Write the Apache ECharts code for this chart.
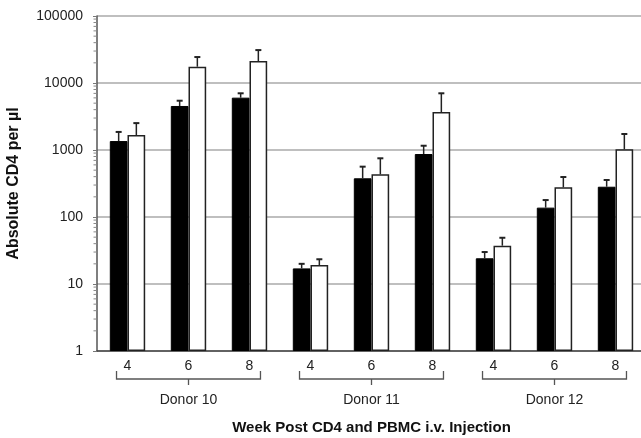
<!DOCTYPE html>
<html><head><meta charset="utf-8">
<script src="https://cdn.jsdelivr.net/npm/echarts@6/dist/echarts.min.js"></script>
<style>html,body{margin:0;padding:0;background:#fff}#c{width:641px;height:438px}</style>
</head><body><div id="c"></div>
<script>
const categories = ['4','6','8','4','6','8','4','6','8'];
const groupNames = ['Donor 10','Donor 11','Donor 12'];
const groupSpans = [[0,2],[3,5],[6,8]];
const blackValues = [1360, 4540, 6040, 17.1, 378, 871, 24.2, 138, 283];
const blackErrTop = [1860, 5440, 7020, 20, 564, 1158, 30, 179, 357];
const whiteValues = [1675, 17500, 21300, 19.2, 434, 3690, 37.3, 277, 1024];
const whiteErrTop = [2520, 24400, 31000, 23.4, 752, 7020, 49, 395, 1734];
const yTicks = [1, 10, 100, 1000, 10000, 100000];
const minorMultipliers = [2, 3, 4, 5, 6, 7, 8, 9];

const FONT = 'Liberation Sans, Arial, sans-serif';
const GAP = 0.42;
const minorTickValues = [];
for (let k = 0; k < yTicks.length - 1; k++) {
  minorMultipliers.forEach(m => minorTickValues.push(yTicks[k] * m));
}

const chart = echarts.init(document.getElementById('c'), null, {renderer:'canvas'});

function errRender(side){
  return function(params, api){
    const i = api.value(0);
    const catW = api.size([1,0])[0];
    const bw = catW*(1-GAP)/2;
    const top = api.coord([i, api.value(1)]);
    const base = api.coord([i, api.value(2)]);
    const x = top[0] + side*bw/2;
    const style = {stroke:'#222', lineWidth:1.5};
    return {type:'group', children:[
      {type:'line', shape:{x1:x,y1:base[1],x2:x,y2:top[1]}, style},
      {type:'line', shape:{x1:x-3,y1:top[1],x2:x+3,y2:top[1]}, style:{stroke:'#222', lineWidth:2}}
    ]};
  };
}

chart.setOption({
  animation:false,
  grid:{left:97, top:16, width:549, bottom:87, outerBoundsMode:'none', containLabel:false},
  xAxis:{
    type:'category', data:categories,
    axisLine:{show:true, lineStyle:{color:'#444', width:1.5}},
    axisTick:{show:false},
    axisLabel:{color:'#222', fontSize:14, margin:8, fontFamily:FONT},
    name:'Week Post CD4 and PBMC i.v. Injection', nameLocation:'middle', nameGap:69,
    nameTextStyle:{fontWeight:'bold', fontSize:15, color:'#111', fontFamily:FONT}
  },
  yAxis:{
    type:'log', logBase:10, min:yTicks[0], max:yTicks[yTicks.length-1],
    axisLine:{show:true, lineStyle:{color:'#555', width:1.5}},
    axisTick:{show:true, inside:false, length:4, lineStyle:{color:'#777'}},
    minorTick:{show:false},
    splitLine:{show:true, lineStyle:{color:'#aaa', width:1.5}},
    axisLabel:{color:'#222', fontSize:14, margin:14, fontFamily:FONT, formatter:v=>String(v)},
    name:'Absolute CD4 per µl', nameLocation:'middle', nameGap:75, nameRotate:90,
    nameTextStyle:{fontWeight:'bold', fontSize:16, color:'#111', fontFamily:FONT}
  },
  series:[
    {type:'bar', data:blackValues, barGap:'0%', barCategoryGap:(GAP*100)+'%',
     itemStyle:{color:'#000', borderColor:'#000', borderWidth:1}},
    {type:'bar', data:whiteValues,
     itemStyle:{color:'#fff', borderColor:'#222', borderWidth:1.5}},
    {type:'custom', renderItem:errRender(-1), clip:false, z:5,
     encode:{x:0,y:1},
     data:blackErrTop.map((v,i)=>[i, v, blackValues[i]])},
    {type:'custom', renderItem:errRender(1), clip:false, z:5,
     encode:{x:0,y:1},
     data:whiteErrTop.map((v,i)=>[i, v, whiteValues[i]])},
    {type:'custom', clip:false, silent:true, encode:{x:0,y:1},
     data:minorTickValues.map(v=>[0, v]),
     renderItem:function(params, api){
       const catW = api.size([1,0])[0];
       const p = api.coord([0, api.value(1)]);
       const x0 = p[0] - catW/2;
       return {type:'line', shape:{x1:x0-3.5,y1:p[1],x2:x0,y2:p[1]}, style:{stroke:'#888', lineWidth:1}};
     }},
    {type:'custom', clip:false, silent:true, encode:{x:0,y:2},
     data:groupSpans.map((s,k)=>[s[0], s[1], 1, k]),
     renderItem:function(params, api){
       const catW = api.size([1,0])[0];
       const a = api.coord([api.value(0), api.value(2)]);
       const b = api.coord([api.value(1), api.value(2)]);
       const ext = catW*0.18;
       const x1 = a[0]-ext, x2 = b[0]+ext, y0 = a[1];
       const mid = (x1+x2)/2;
       const st = {stroke:'#555', lineWidth:1.3, fill:null};
       return {type:'group', children:[
         {type:'polyline', shape:{points:[[x1,y0+20],[x1,y0+28],[x2,y0+28],[x2,y0+20]]}, style:st},
         {type:'line', shape:{x1:mid,y1:y0+28,x2:mid,y2:y0+34}, style:st},
         {type:'text', style:{text:groupNames[api.value(3)], x:mid, y:y0+49, align:'center', verticalAlign:'middle',
           fontSize:14, fill:'#222', fontFamily:FONT}}
       ]};
     }}
  ]
});
</script></body></html>
